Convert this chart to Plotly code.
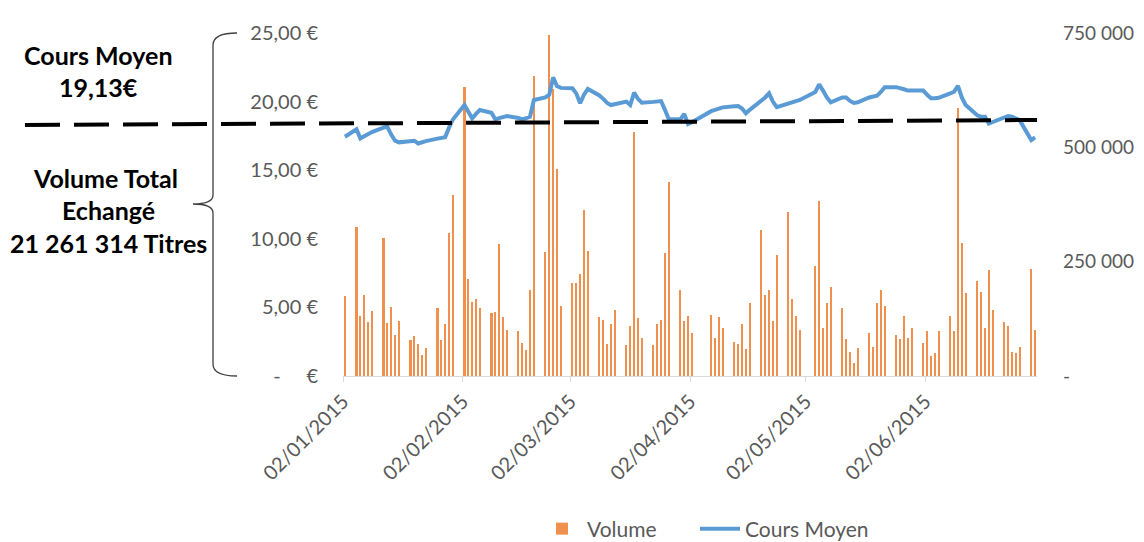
import plotly.graph_objects as go

# ---------------- data ----------------
dates = [
    "2015-01-02", "2015-01-05", "2015-01-06", "2015-01-07", "2015-01-08", "2015-01-09",
    "2015-01-12", "2015-01-13", "2015-01-14", "2015-01-15", "2015-01-16",
    "2015-01-19", "2015-01-20", "2015-01-21", "2015-01-22", "2015-01-23",
    "2015-01-26", "2015-01-27", "2015-01-28", "2015-01-29", "2015-01-30",
    "2015-02-02", "2015-02-03", "2015-02-04", "2015-02-05", "2015-02-06",
    "2015-02-09", "2015-02-10", "2015-02-11", "2015-02-12", "2015-02-13",
    "2015-02-16", "2015-02-17", "2015-02-18", "2015-02-19", "2015-02-20",
    "2015-02-23", "2015-02-24", "2015-02-25", "2015-02-26", "2015-02-27",
    "2015-03-02", "2015-03-03", "2015-03-04", "2015-03-05", "2015-03-06",
    "2015-03-09", "2015-03-10", "2015-03-11", "2015-03-12", "2015-03-13",
    "2015-03-16", "2015-03-17", "2015-03-18", "2015-03-19", "2015-03-20",
    "2015-03-23", "2015-03-24", "2015-03-25", "2015-03-26", "2015-03-27",
    "2015-03-30", "2015-03-31", "2015-04-01", "2015-04-02",
    "2015-04-07", "2015-04-08", "2015-04-09", "2015-04-10",
    "2015-04-13", "2015-04-14", "2015-04-15", "2015-04-16", "2015-04-17",
    "2015-04-20", "2015-04-21", "2015-04-22", "2015-04-23", "2015-04-24",
    "2015-04-27", "2015-04-28", "2015-04-29", "2015-04-30",
    "2015-05-04", "2015-05-05", "2015-05-06", "2015-05-07", "2015-05-08",
    "2015-05-11", "2015-05-12", "2015-05-13", "2015-05-14", "2015-05-15",
    "2015-05-18", "2015-05-19", "2015-05-20", "2015-05-21", "2015-05-22",
    "2015-05-25", "2015-05-26", "2015-05-27", "2015-05-28", "2015-05-29",
    "2015-06-01", "2015-06-02", "2015-06-03", "2015-06-04", "2015-06-05",
    "2015-06-08", "2015-06-09", "2015-06-10", "2015-06-11", "2015-06-12",
    "2015-06-15", "2015-06-16", "2015-06-17", "2015-06-18", "2015-06-19",
    "2015-06-22", "2015-06-23", "2015-06-24", "2015-06-25", "2015-06-26",
    "2015-06-29", "2015-06-30",
]

volume = [
    176000, 326000, 131000, 178000, 117000, 142000,
    302000, 115000, 151000, 90000, 120000,
    78000, 87000, 70000, 45000, 62000,
    148000, 79000, 114000, 313000, 396000,
    631000, 212000, 162000, 168000, 148000,
    137000, 139000, 288000, 129000, 101000,
    98000, 73000, 56000, 187000, 656000,
    271000, 745000, 628000, 452000, 153000,
    204000, 204000, 223000, 363000, 274000,
    129000, 122000, 70000, 114000, 144000,
    67000, 109000, 533000, 126000, 84000,
    67000, 114000, 123000, 268000, 424000,
    187000, 120000, 131000, 95000,
    134000, 84000, 129000, 104000,
    75000, 70000, 114000, 58000, 159000,
    319000, 178000, 187000, 120000, 265000,
    358000, 168000, 131000, 101000,
    240000, 383000, 106000, 159000, 195000,
    148000, 81000, 53000, 28000, 61000,
    95000, 64000, 159000, 187000, 154000,
    90000, 81000, 131000, 84000, 106000,
    73000, 98000, 44000, 50000, 98000,
    131000, 98000, 587000, 291000, 181000,
    207000, 184000, 104000, 232000, 145000,
    117000, 109000, 53000, 50000, 64000,
    235000, 101000,
]

cours_moyen = [
    17.44, 17.98, 17.32, 17.50, 17.65, 17.78,
    18.10, 18.17, 17.60, 17.15, 17.03,
    17.10, 17.15, 16.95, 17.05, 17.12,
    17.30, 17.35, 17.40, 18.10, 18.70,
    19.75, 19.30, 18.78, 19.10, 19.39,
    19.19, 18.71, 18.80, 18.90, 18.95,
    18.80, 18.71, 18.80, 18.90, 20.12,
    20.31, 20.50, 21.77, 21.14, 21.00,
    20.97, 20.60, 19.88, 20.50, 20.92,
    20.45, 20.20, 19.90, 19.75, 19.80,
    20.00, 19.75, 20.65, 20.20, 19.92,
    19.98, 20.00, 20.04, 19.40, 18.71,
    18.71, 19.10, 18.37, 18.50,
    19.30, 19.42, 19.50, 19.58,
    19.66, 19.68, 19.50, 19.15, 19.40,
    20.05, 20.30, 20.60, 20.00, 19.60,
    19.83, 19.90, 20.00, 20.12,
    20.70, 21.26, 20.80, 20.30, 19.95,
    20.30, 20.30, 20.05, 19.90, 19.95,
    20.30, 20.35, 20.43, 20.70, 21.05,
    21.05, 21.00, 20.90, 20.80, 20.80,
    20.80, 20.50, 20.24, 20.25, 20.28,
    20.60, 20.72, 21.14, 20.30, 19.75,
    19.00, 18.90, 18.90, 18.40, 18.50,
    18.85, 18.95, 18.90, 18.80, 18.65,
    17.20, 17.40,
]

x_tick_dates = ["2015-01-02", "2015-02-02", "2015-03-02", "2015-04-02", "2015-05-02", "2015-06-02"]
x_tick_text = ["02/01/2015", "02/02/2015", "02/03/2015", "02/04/2015", "02/05/2015", "02/06/2015"]

price_ticks = [0, 5, 10, 15, 20, 25]
price_tick_text = ["-\u00a0\u00a0\u00a0\u00a0\u00a0€", "5,00 €", "10,00 €", "15,00 €", "20,00 €", "25,00 €"]

vol_ticks = [0, 250000, 500000, 750000]
vol_tick_text = ["-", "250 000", "500 000", "750 000"]

# ---------------- layout geometry (page pixels; page body has an 8px margin) ----------------
OFF = 8
W, H = 1144 - OFF, 542 - OFF
L, R, T, B = 343, 1037, 33, 376          # plot area in page pixels
PW, PH = R - L, B - T


def px(x):
    return (x - L) / PW


def py(y):
    return (B - y) / PH


FONT = "Lato"
GREY = "#595959"

bar_x = [d + " 12:00" for d in dates]

fig = go.Figure()
fig.add_trace(go.Bar(
    x=bar_x, y=volume, name="Volume",
    marker=dict(color="#ED7D31", line=dict(width=0)),
    opacity=0.85,
    width=0.55 * 86400000,
    yaxis="y",
    legend="legend",
))
fig.add_trace(go.Scatter(
    x=bar_x, y=cours_moyen, name="Cours Moyen", mode="lines",
    line=dict(color="#5B9BD5", width=4, shape="linear"),
    yaxis="y2",
    legend="legend2",
))

# curly brace
bx, bm, bt = 237, 213, 193
pts = [
    ("M", [(bx, 33)]),
    ("Q", [(bm, 33), (bm, 45)]),
    ("L", [(bm, 195)]),
    ("Q", [(bm, 204), (bt, 204)]),
    ("Q", [(bm, 204), (bm, 213)]),
    ("L", [(bm, 364)]),
    ("Q", [(bm, 376), (bx, 376)]),
]
path = " ".join(cmd + " " + " ".join(f"{px(a):.5f},{py(b):.5f}" for a, b in p) for cmd, p in pts)

shapes = [
    dict(type="path", xref="paper", yref="paper", path=path,
         line=dict(color="#404040", width=1.3)),
    dict(type="line", xref="paper", yref="paper",
         x0=px(25), y0=py(125), x1=px(1037), y1=py(120),
         line=dict(color="black", width=4, dash="35px,14px")),
]

ann_font = dict(family=FONT, size=25, color="black")
annotations = []
for text, cx, cy in [
    ("<b>Cours Moyen</b>", 98, 55),
    ("<b>19,13€</b>", 98, 87),
    ("<b>Volume Total</b>", 105, 178),
    ("<b>Echangé</b>", 108, 210),
    ("<b>21 261 314 Titres</b>", 108, 243),
]:
    annotations.append(dict(text=text, x=px(cx), y=py(cy), xref="paper", yref="paper",
                            showarrow=False, xanchor="center", yanchor="middle", font=ann_font))

legend_font = dict(family=FONT, size=21, color=GREY)

fig.update_layout(
    width=W, height=H,
    margin=dict(l=L - OFF, r=W - (R - OFF), t=T - OFF, b=H - (B - OFF), autoexpand=False),
    paper_bgcolor="white", plot_bgcolor="white",
    font=dict(family=FONT, size=20, color=GREY),
    bargap=0,
    showlegend=True,
    legend=dict(orientation="h", x=px(537), y=py(529), xanchor="left", yanchor="middle",
                itemwidth=40, font=legend_font),
    legend2=dict(orientation="h", x=px(695), y=py(529), xanchor="left", yanchor="middle",
                 itemwidth=40, font=legend_font),
    xaxis=dict(
        type="date", range=["2015-01-02", "2015-07-01"],
        tickvals=x_tick_dates, ticktext=x_tick_text, tickangle=-45,
        showline=True, linecolor="#D9D9D9", linewidth=1,
        ticks="outside", ticklen=5, tickcolor="#D9D9D9",
        showgrid=False, zeroline=False, automargin=False,
        tickfont=dict(family=FONT, size=20, color=GREY),
    ),
    yaxis=dict(
        range=[0, 750000], side="right",
        tickvals=vol_ticks, ticktext=vol_tick_text,
        showgrid=False, zeroline=False, showline=False, ticks="",
        ticklabelstandoff=25, automargin=False,
        tickfont=dict(family=FONT, size=19, color=GREY),
    ),
    yaxis2=dict(
        range=[0, 25], side="left", overlaying="y",
        tickvals=price_ticks, ticktext=price_tick_text,
        showgrid=False, zeroline=False, showline=False, ticks="",
        ticklabelstandoff=24, automargin=False,
        tickfont=dict(family=FONT, size=20, color=GREY),
    ),
    shapes=shapes,
    annotations=annotations,
)

fig.write_html("out.html")
